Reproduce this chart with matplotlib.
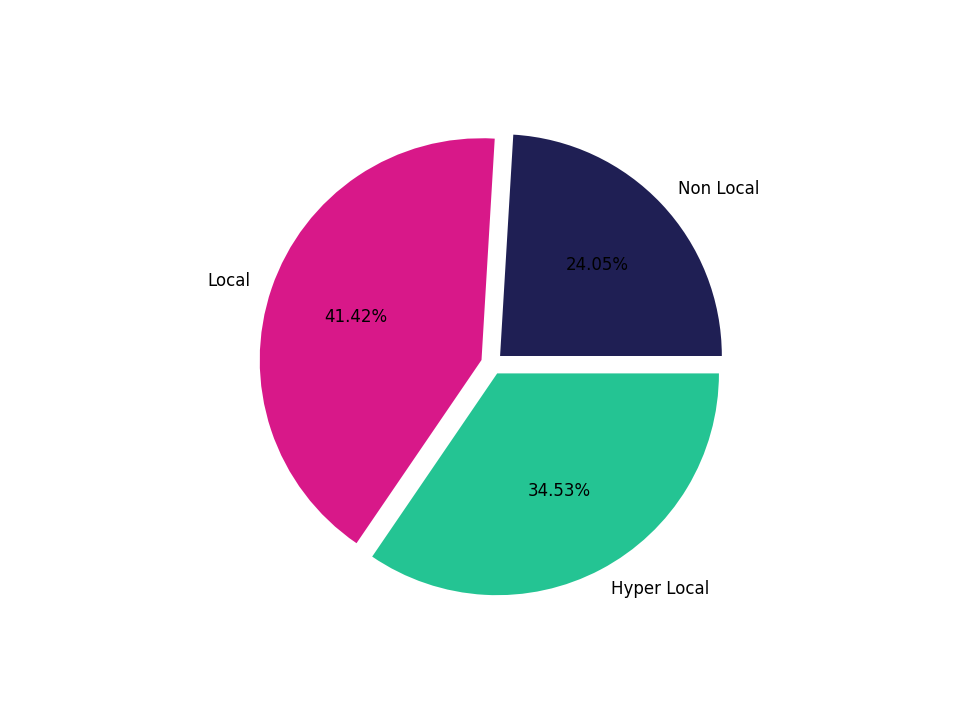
import matplotlib
matplotlib.use('Agg')
import matplotlib.pyplot as plt

labels = ['Non Local', 'Local', 'Hyper Local']
values = [24.05, 41.42, 34.53]
colors = ['#1f1f54', '#d81889', '#24c493']
explode = [0.05, 0.05, 0.05]

fig, ax = plt.subplots(figsize=(9.6, 7.2), dpi=100)
ax.pie(values, labels=labels, colors=colors, explode=explode, autopct='%.2f%%',
       textprops={'fontsize': 12})
plt.savefig('out.png')
